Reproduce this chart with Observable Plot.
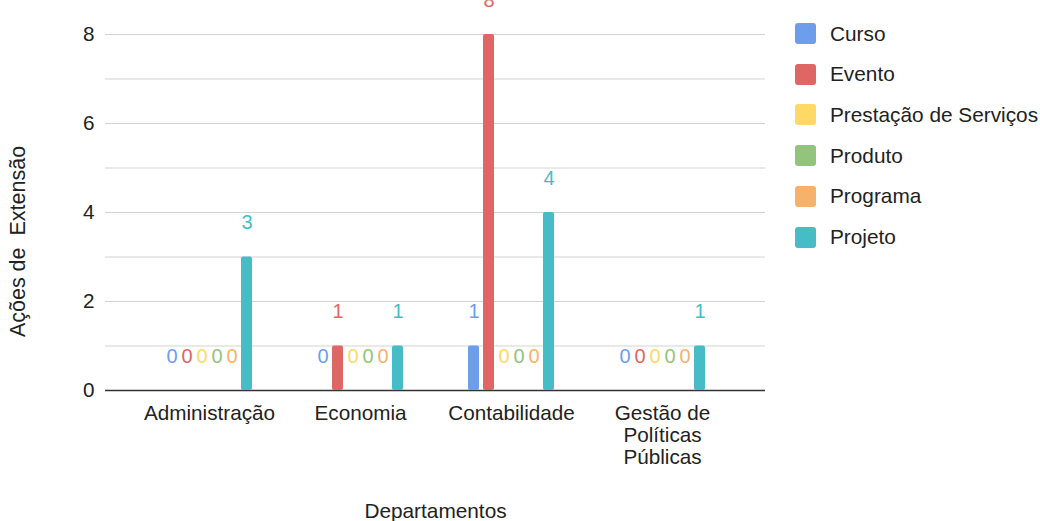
<!DOCTYPE html>
<html><head><meta charset="utf-8">
<script src="https://cdn.jsdelivr.net/npm/d3@7"></script>
<script src="https://cdn.jsdelivr.net/npm/@observablehq/plot@0.6"></script>
<style>
body{margin:0;background:#fff;}
#wrap{position:relative;width:1040px;height:521px;overflow:hidden;font-family:"Liberation Sans",Arial,sans-serif;background:#fff;}
#wrap svg{position:absolute;left:0;top:0;}
.item{position:absolute;left:795px;height:24px;display:flex;align-items:center;white-space:nowrap;font-size:20.8px;color:#222;}
.sw{width:21px;height:21px;border-radius:3px;margin-right:14px;flex:none;}
</style></head>
<body><div id="wrap"></div>
<script>
const departments = ["Administração","Economia","Contabilidade","Gestão de Políticas Públicas"];
const deptLabels = ["Administração","Economia","Contabilidade","Gestão de\nPolíticas\nPúblicas"];
const series = ["Curso","Evento","Prestação de Serviços","Produto","Programa","Projeto"];
const colors = ["#6d9eeb","#e06666","#ffd966","#93c47d","#f6b26b","#46bdc6"];
const curso     = [0,0,1,0];
const evento    = [0,1,8,0];
const prestacao = [0,0,0,0];
const produto   = [0,0,0,0];
const programa  = [0,0,0,0];
const projeto   = [3,1,4,1];
const yTicks = [0,2,4,6,8];
const gridTicks = [1,2,3,4,5,6,7,8];
const xTitle = "Departamentos";
const yTitle = "Ações de  Extensão";

const valuesBySeries = [curso, evento, prestacao, produto, programa, projeto];
const data = [];
series.forEach((s,i)=>departments.forEach((d,j)=>data.push({dept:d, series:s, value:valuesBySeries[i][j]})));

const common = {
  width:1040, height:521,
  marginLeft:105, marginRight:275, marginTop:34, marginBottom:131
};
const font = "'Liberation Sans', Arial, sans-serif";
const deptPad = {paddingInner:0.34, paddingOuter:0.345};

const base = Plot.plot({
  ...common,
  style:{fontFamily:font, fontSize:"20.7px", color:"#222", background:"#fff", overflow:"visible"},
  x:{type:"band", domain:departments, ...deptPad, axis:null},
  y:{domain:[0,8], axis:null},
  marks:[
    Plot.ruleY(gridTicks, {stroke:"#d3d3d3", strokeWidth:1}),
    Plot.ruleY([0], {stroke:"#333", strokeWidth:1.3}),
    Plot.axisY({ticks:yTicks, tickSize:0, tickPadding:11, label:null, fontSize:20.7, fill:"#222"}),
    Plot.axisX({tickSize:0, tickPadding:14, label:null, fontSize:20.7, fill:"#222", lineHeight:1.06,
      tickFormat:d=>deptLabels[departments.indexOf(d)]}),
    Plot.text([xTitle], {frameAnchor:"bottom", dy:127, fontSize:20.8, fill:"#222"}),
    Plot.text([yTitle], {frameAnchor:"left", rotate:-90, textAnchor:"middle", dx:-87, dy:29, fontSize:21.5, fill:"#222"})
  ]
});

const bars = Plot.plot({
  ...common,
  style:{fontFamily:font, fontSize:"20px", background:"transparent", overflow:"visible"},
  fx:{domain:departments, ...deptPad, axis:null, label:null},
  x:{domain:series, paddingInner:0.255, paddingOuter:0.3, axis:null},
  y:{domain:[0,8], axis:null},
  color:{domain:series, range:colors},
  marks:[
    Plot.barY(data.filter(d=>d.value>0), {fx:"dept", x:"series", y:"value", fill:"series", rx:2}),
    Plot.text(data, {fx:"dept", x:"series", y:"value", text:d=>String(d.value), fill:"series", dy:-34, fontSize:20})
  ]
});

const wrap = document.getElementById("wrap");
wrap.appendChild(base);
wrap.appendChild(bars);

series.forEach((s,i)=>{
  const item = document.createElement("div");
  item.className = "item";
  item.style.top = (33.5 + 40.7*i - 12) + "px";
  const sw = document.createElement("div");
  sw.className = "sw";
  sw.style.background = colors[i];
  const lab = document.createElement("span");
  lab.textContent = s;
  item.appendChild(sw); item.appendChild(lab);
  wrap.appendChild(item);
});
</script>
</body></html>
